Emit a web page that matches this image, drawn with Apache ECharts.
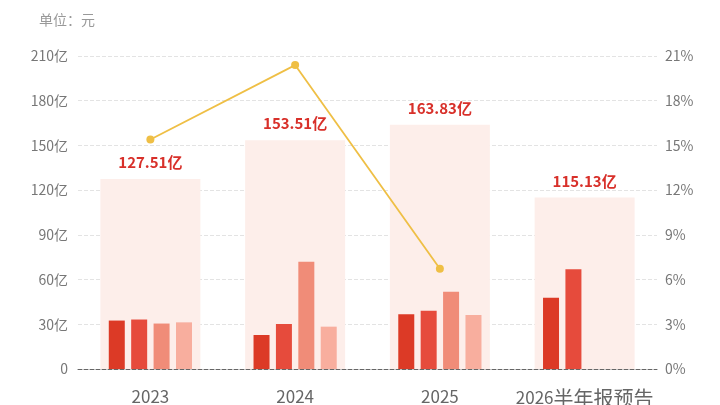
<!DOCTYPE html>
<html lang="zh">
<head>
    <meta charset="UTF-8">
    <title>营收与增速</title>
    <script src="https://cdn.jsdelivr.net/npm/echarts@6/dist/echarts.min.js"></script>
    <style>
        body, html {
            margin: 0;
            padding: 0;
            width: 100%;
            height: 100%;
            overflow: hidden;
            background-color: #fff;
        }
        #chart {
            width: 720px;
            height: 405px;
        }
    </style>
</head>
<body>
    <div id="chart"></div>
    <script>
        // 数据
        var years = ['2023', '2024', '2025', '2026半年报预告'];
        var totals = [127.51, 153.51, 163.83, 115.13];
        var q1 = [32.5, 22.8, 36.7, 47.8];
        var q2 = [33.2, 30.2, 39.1, 67.0];
        var q3 = [30.5, 72.0, 51.9, null];
        var q4 = [31.3, 28.4, 36.2, null];
        var growth = [15.4, 20.39, 6.72, null];

        var quarterColors = ['#dc3a26', '#e64b3c', '#f08c78', '#f8ae9e'];
        var font = '"Noto Sans CJK SC", "Noto Sans", sans-serif';

        function quarterSeries(data, i) {
            return {
                type: 'bar',
                xAxisIndex: 0,
                yAxisIndex: 0,
                data: data,
                barWidth: 16,
                barGap: '40%',
                itemStyle: { color: quarterColors[i] },
                z: 3
            };
        }

        // 数字和汉字分开设字号，汉字稍大
        function yearLabel(v) {
            var m = v.match(/^(\d+)(.*)$/);
            return m[2] ? '{n|' + m[1] + '}{c|' + m[2] + '}' : '{n|' + v + '}';
        }

        var option = {
            backgroundColor: '#fff',
            textStyle: { fontFamily: font },
            title: {
                text: '单位：元',
                left: 34,
                top: 8,
                textStyle: { color: '#999', fontSize: 14, fontWeight: 'normal', fontFamily: font }
            },
            grid: { left: 78, right: 63, top: 56, bottom: 36, outerBoundsMode: 'none' },
            xAxis: [{
                type: 'category',
                data: years,
                axisTick: { show: false },
                axisLine: { lineStyle: { color: '#666', type: 'dashed' } },
                axisLabel: {
                    interval: 0,
                    margin: 19,
                    formatter: yearLabel,
                    rich: {
                        n: { color: '#666', fontSize: 17, fontFamily: font },
                        c: { color: '#666', fontSize: 20, fontFamily: font }
                    }
                }
            }, {
                type: 'category',
                data: years,
                show: false
            }],
            yAxis: [{
                type: 'value',
                min: 0,
                max: 210,
                interval: 30,
                axisLine: { show: false },
                axisTick: { show: false },
                splitLine: { lineStyle: { color: '#e3e3e3', type: 'dashed' } },
                axisLabel: {
                    color: '#777', fontSize: 14, margin: 10, fontFamily: font,
                    formatter: function (v) { return v === 0 ? '0' : v + '亿'; }
                }
            }, {
                type: 'value',
                min: 0,
                max: 21,
                interval: 3,
                axisLine: { show: false },
                axisTick: { show: false },
                splitLine: { show: false },
                axisLabel: { color: '#777', fontSize: 14, margin: 8, fontFamily: font, formatter: '{value}%' }
            }],
            series: [{
                type: 'bar',
                xAxisIndex: 1,
                yAxisIndex: 0,
                data: totals,
                barWidth: 100,
                itemStyle: { color: '#fdeeea' },
                label: {
                    show: true,
                    position: 'top',
                    distance: 9,
                    color: '#d8302a',
                    fontSize: 15,
                    fontWeight: 'bold',
                    fontFamily: font,
                    formatter: function (p) { return p.value.toFixed(2) + '亿'; }
                },
                z: 1
            },
                quarterSeries(q1, 0),
                quarterSeries(q2, 1),
                quarterSeries(q3, 2),
                quarterSeries(q4, 3),
            {
                type: 'line',
                xAxisIndex: 0,
                yAxisIndex: 1,
                data: growth,
                symbol: 'circle',
                symbolSize: 8,
                lineStyle: { color: '#efbf45', width: 1.8 },
                itemStyle: { color: '#efbf45' },
                z: 5
            }]
        };

        var chart = echarts.init(document.getElementById('chart'));
        chart.setOption(option);
    </script>
</body>
</html>
